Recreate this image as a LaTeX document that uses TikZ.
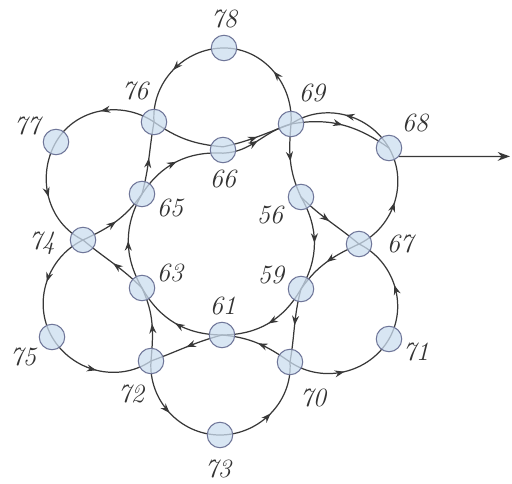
\documentclass[tikz,border=0pt]{standalone}
\usepackage{tikz}
\usetikzlibrary{arrows.meta, decorations.markings, backgrounds}

\definecolor{nodefill}{HTML}{CBDDEF}
\definecolor{nodeline}{HTML}{6F7699}
\definecolor{linec}{HTML}{383838}
\definecolor{textc}{HTML}{333333}

\begin{document}
\begin{tikzpicture}[
    x=0.02cm, y=0.02cm,
    vtx/.style={circle, draw=nodeline, fill=nodefill, fill opacity=0.75,
                line width=0.6pt, minimum size=0.51cm, inner sep=0pt},
    lbl/.style={font=\fontsize{15}{17}\selectfont\itshape, text=textc,
                inner sep=0pt},
    link/.style={draw=linec, line width=0.7pt},
    flow/.style={link, postaction={decorate},
                 decoration={markings, mark=at position 0.5 with
                   {\arrow{Stealth[length=5.5pt,width=4pt]}}}},
    ring/.style={flow, bend left=30}
  ]
    \useasboundingbox (0,0) rectangle (512,484);
    % junctions
    \node[vtx] (78) at (224,436) {};
    \node[vtx] (76) at (154,362) {};
    \node[vtx] (69) at (291,360) {};
    \node[vtx] (68) at (389,336) {};
    \node[vtx] (66) at (223,334) {};
    \node[vtx] (77) at (56,342)  {};
    \node[vtx] (65) at (142,290) {};
    \node[vtx] (56) at (301,287) {};
    \node[vtx] (74) at (83,244)  {};
    \node[vtx] (67) at (359,240) {};
    \node[vtx] (63) at (142,196) {};
    \node[vtx] (59) at (301,195) {};
    \node[vtx] (61) at (222,149) {};
    \node[vtx] (75) at (52,147)  {};
    \node[vtx] (72) at (151,123) {};
    \node[vtx] (70) at (290,122) {};
    \node[vtx] (71) at (389,145) {};
    \node[vtx] (73) at (220,49)  {};
    \coordinate (exit) at (510,327.6);
    % numbers
    \node[lbl] (t78) at (224,465) {78};
    \node[lbl] (t76) at (135,393) {76};
    \node[lbl] (t69) at (312,391) {69};
    \node[lbl] (t68) at (415,361) {68};
    \node[lbl] (t77) at (27,358)  {77};
    \node[lbl] (t66) at (223,305) {66};
    \node[lbl] (t65) at (170,276) {65};
    \node[lbl] (t56) at (270,269) {56};
    \node[lbl] (t74) at (42,241)  {74};
    \node[lbl] (t67) at (400,240) {67};
    \node[lbl] (t63) at (170,211) {63};
    \node[lbl] (t59) at (271,209) {59};
    \node[lbl] (t61) at (223,178) {61};
    \node[lbl] (t75) at (23,127)  {75};
    \node[lbl] (t72) at (131,90)  {72};
    \node[lbl] (t70) at (313,86)  {70};
    \node[lbl] (t71) at (416,132) {71};
    \node[lbl] (t73) at (218,15)  {73};

    \begin{pgfonlayer}{background}
    % top loop
    \draw[flow] (69.center) to[out=86,in=0] (78.center);
    \draw[flow] (78.center) to[out=180,in=94] (76.center);
    \draw[link] (76.center) to[out=-35,in=175] ([yshift=1.8pt]66.center);
    \draw[flow] ([yshift=1.8pt]66.center) to[out=12,in=200] (69.center);
    % upper left loop
    \draw[flow] (76.center) to[out=146,in=60] (77.center);
    \draw[flow] (77.center) to[out=240,in=154] (74.center);
    \draw[flow] (74.center) to[out=25,in=235] (65.center);
    \draw[flow] (65.center) to[out=75,in=260] (76.center);
    % lower left loop
    \draw[flow] (74.center) to[out=206,in=120] (75.center);
    \draw[flow] (75.center) to[out=300,in=214] (72.center);
    \draw[flow] (72.center) to[out=85,in=295] (63.center);
    \draw[flow] (63.center) to[out=135,in=320] (74.center);
    % bottom loop
    \draw[flow] (72.center) to[out=266,in=180] (73.center);
    \draw[flow] (73.center) to[out=0,in=274] (70.center);
    \draw[flow] (70.center) to[out=145,in=355] (61.center);
    \draw[flow] (61.center) to[out=195,in=20] (72.center);
    % lower right loop
    \draw[flow] (70.center) to[out=326,in=240] (71.center);
    \draw[flow] (71.center) to[out=60,in=334] (67.center);
    \draw[flow] (67.center) to[out=205,in=55] (59.center);
    \draw[flow] (59.center) to[out=255,in=80] (70.center);
    % upper right loop
    \draw[flow] (67.center) to[out=26,in=300] (68.center);
    \draw[flow] (68.center) to[out=120,in=34] (69.center);
    \draw[flow] (69.center) to[out=265,in=115] (56.center);
    \draw[flow] (56.center) to[out=315,in=140] (67.center);
    % inner ring
    \draw[ring] (63.center) to (65.center);
    \draw[ring] (65.center) to ([yshift=-1.8pt]66.center);
    \draw[flow] ([yshift=-1.8pt]66.center) to[out=2,in=195] (69.center);
    \draw[ring] (56.center) to (59.center);
    \draw[ring] (59.center) to (61.center);
    \draw[ring] (61.center) to (63.center);
    % way out
    \draw[flow] (69.center) to[out=10,in=145] (68.center);
    \draw[link, -{Stealth[length=7pt,width=5pt]}] (68.-40) -- (exit);
    \end{pgfonlayer}
\end{tikzpicture}
\end{document}
